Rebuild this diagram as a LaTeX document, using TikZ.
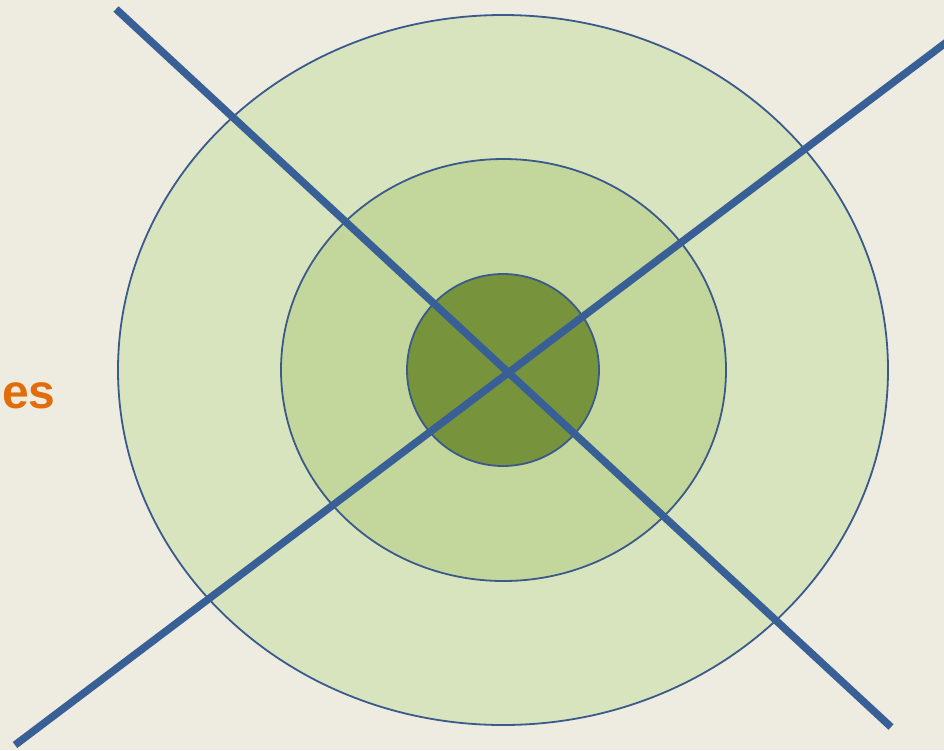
\documentclass[tikz,border=0pt]{standalone}
\usepackage{fontspec}
\setmainfont{Liberation Sans}
\usetikzlibrary{shapes.geometric}
\definecolor{bgc}{HTML}{EEEBE0}
\definecolor{ring1}{HTML}{D7E4BD}
\definecolor{ring2}{HTML}{C3D69B}
\definecolor{ring3}{HTML}{77933C}
\definecolor{edgeblue}{HTML}{3A5A8C}
\definecolor{axisblue}{HTML}{385F96}
\definecolor{orangetxt}{HTML}{E36C0A}
\tikzset{
  ring/.style={draw=edgeblue, line width=1.8pt},
  axis/.style={draw=axisblue, line width=7.5pt},
  lbl/.style={font=\bfseries\fontsize{48}{54}\selectfont, text=orangetxt, inner sep=0pt}
}
\begin{document}
\begin{tikzpicture}[x=1pt,y=-1pt]
\fill[bgc] (0,0) rectangle (944,750);
\useasboundingbox (0,0) rectangle (944,750);
\draw[ring, fill=ring1] (503,370) ellipse [x radius=385, y radius=355];
\draw[ring, fill=ring2] (503.5,370) ellipse [x radius=222.5, y radius=211];
\draw[ring, fill=ring3] (503,370) ellipse [x radius=96, y radius=96];
\coordinate (a1) at (116,9);
\coordinate (a2) at (891,727);
\coordinate (b1) at (15,745);
\coordinate (b2) at (960,32);
\draw[axis] (a1) -- (a2);
\draw[axis] (b1) -- (b2);
\node[lbl, anchor=base west] (es) at (2,408) {es};
\end{tikzpicture}
\end{document}
